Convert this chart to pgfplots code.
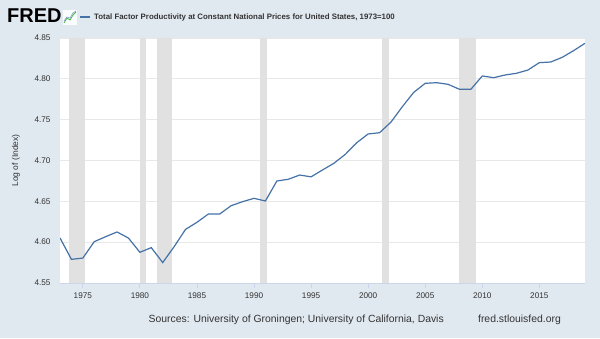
\documentclass[border=0pt]{standalone}
\usepackage{fontspec}
\setmainfont{Liberation Sans}
\usepackage{pgfplots}
\pgfplotsset{compat=1.18}
\definecolor{bg}{HTML}{E1E9F0}
\definecolor{fredline}{HTML}{4572A7}
\definecolor{rec}{HTML}{E1E1E1}
\definecolor{gridc}{HTML}{E8E8E8}
\definecolor{axisc}{HTML}{CCD6EB}
\definecolor{txt}{HTML}{333333}
\begin{document}
\begin{tikzpicture}[x=1pt,y=1pt]
\fill[bg] (0,0) rectangle (600,338);
% logo
\node[anchor=west, inner sep=0pt, font=\bfseries\fontsize{20}{20}\selectfont] at (7,322) {FRED};
\fill[white!85!bg] (63,313) rectangle (77,328);
\draw[green!60!black!70, line width=0.8pt] (64,315) -- (67,320) -- (70,318) -- (73,323) -- (76,326);
\draw[fredline!70, line width=0.6pt] (64,317) -- (67,321) -- (70,320) -- (73,325) -- (76,327);
% legend/title
\draw[fredline, line width=1.5pt] (80,321) -- (90,321);
\node[anchor=west, inner sep=0pt, text=txt, font=\bfseries\fontsize{7.85}{9}\selectfont] at (94,321) {Total Factor Productivity at Constant National Prices for United States, 1973=100};
% y label
\node[rotate=90, text=txt, font=\fontsize{8.5}{10}\selectfont] at (16,177.5) {Log of (Index)};
% sources
\node[anchor=east, inner sep=0pt, text=txt, font=\fontsize{10.4}{12}\selectfont] at (444,18) {Sources: University of Groningen; University of California, Davis};
\node[anchor=east, inner sep=0pt, text=txt, font=\fontsize{10.4}{12}\selectfont] at (561,18) {fred.stlouisfed.org};
\begin{axis}[
  at={(60pt,55pt)}, anchor=south west,
  scale only axis, width=525pt, height=245pt,
  xmin=1973, xmax=2019, ymin=4.55, ymax=4.85,
  axis background/.style={fill=white},
  axis x line*=bottom, axis y line*=left,
  y axis line style={draw=none},
  x axis line style={draw=axisc, line width=1pt},
  xtick={1975,1980,...,2015},
  ytick={4.55,4.60,4.65,4.70,4.75,4.80,4.85},
  xtick align=outside,
  major tick length=5pt,
  xtick style={draw=axisc, line width=0.8pt},
  ytick style={draw=none},
  ymajorgrids,
  major grid style={gridc, line width=0.8pt},
  tick label style={font=\fontsize{8.2}{9}\selectfont, text=txt},
  /pgf/number format/assume math mode=true,
  xticklabel style={/pgf/number format/1000 sep={}, yshift=-1pt},
  yticklabel style={xshift=-6pt, /pgf/number format/fixed, /pgf/number format/fixed zerofill, /pgf/number format/precision=2},
  clip=true,
]
\addplot[fill=rec, draw=none] coordinates {(1973.83,4.55) (1973.83,4.85) (1975.17,4.85) (1975.17,4.55)} -- cycle;
\addplot[fill=rec, draw=none] coordinates {(1980.0,4.55) (1980.0,4.85) (1980.5,4.85) (1980.5,4.55)} -- cycle;
\addplot[fill=rec, draw=none] coordinates {(1981.5,4.55) (1981.5,4.85) (1982.83,4.85) (1982.83,4.55)} -- cycle;
\addplot[fill=rec, draw=none] coordinates {(1990.5,4.55) (1990.5,4.85) (1991.17,4.85) (1991.17,4.55)} -- cycle;
\addplot[fill=rec, draw=none] coordinates {(2001.17,4.55) (2001.17,4.85) (2001.83,4.85) (2001.83,4.55)} -- cycle;
\addplot[fill=rec, draw=none] coordinates {(2007.92,4.55) (2007.92,4.85) (2009.42,4.85) (2009.42,4.55)} -- cycle;
\addplot[fredline, line width=1.2pt, mark=none] table {
x y
1973 4.6052
1974 4.5790
1975 4.5805
1976 4.6006
1977 4.6067
1978 4.6125
1979 4.6050
1980 4.5876
1981 4.5933
1982 4.5750
1983 4.5945
1984 4.6157
1985 4.6243
1986 4.6345
1987 4.6345
1988 4.6447
1989 4.6496
1990 4.6537
1991 4.6504
1992 4.6749
1993 4.6770
1994 4.6822
1995 4.6800
1996 4.6884
1997 4.6966
1998 4.7076
1999 4.7218
2000 4.7325
2001 4.7340
2002 4.7470
2003 4.7660
2004 4.7835
2005 4.7945
2006 4.7953
2007 4.7933
2008 4.7872
2009 4.7872
2010 4.8035
2011 4.8014
2012 4.8047
2013 4.8068
2014 4.8108
2015 4.8198
2016 4.8206
2017 4.8263
2018 4.8345
2019 4.8435
};
\end{axis}
\end{tikzpicture}
\end{document}
